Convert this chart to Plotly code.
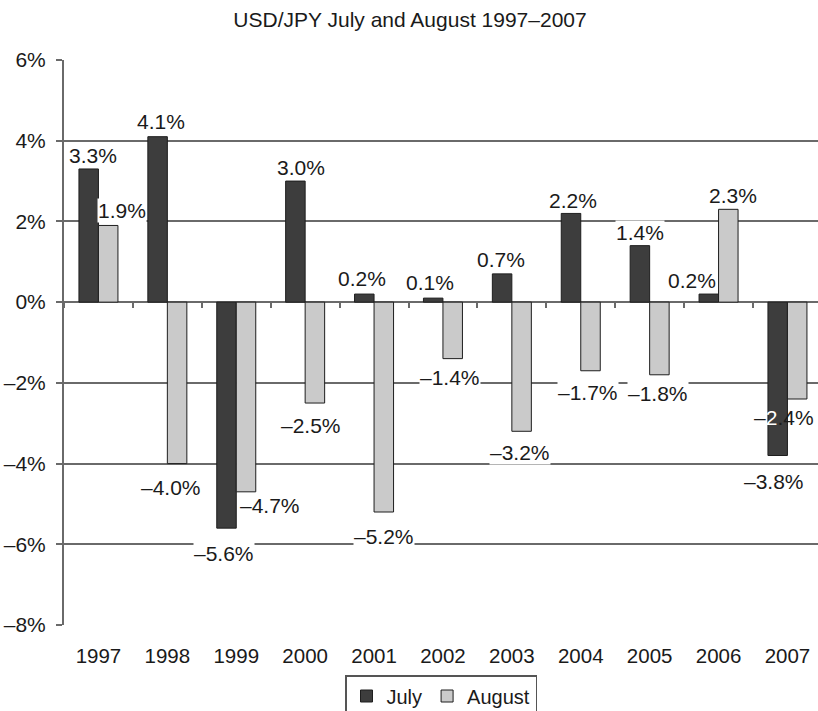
import plotly.graph_objects as go

# ---- data ----
years = ["1997", "1998", "1999", "2000", "2001", "2002", "2003", "2004", "2005", "2006", "2007"]
july = [3.3, 4.1, -5.6, 3.0, 0.2, 0.1, 0.7, 2.2, 1.4, 0.2, -3.8]
august = [1.9, -4.0, -4.7, -2.5, -5.2, -1.4, -3.2, -1.7, -1.8, 2.3, -2.4]
ytick_vals = [-8, -6, -4, -2, 0, 2, 4, 6]
ytick_text = ["\u20138%", "\u20136%", "\u20134%", "\u20132%", "0%", "2%", "4%", "6%"]

# ---- label placement (pixel shifts relative to the category centre / bar end) ----
july_dx = [-5, -6, -12, -4, -12, -13, -11, -8, -10, -27, -13]
july_dy = [13, 15, -25, 14, 16, 16, 14, 13, 13, 14, -26]
aug_dx = [24, 4, 34, 6, 10, 7, 8, 7, 8, 14, -3]
aug_dy = [15, -24, -14, -22, -24, -19, -21, -22, -19, 14, -18]
# labels that sit on top of a dark bar: no white box, part of the text drawn in white
overlap_labels = {("aug", 10)}

FONT = "Liberation Sans, Arial, Helvetica, sans-serif"
JULY_COLOR = "#3d3d3d"
AUG_COLOR = "#cacaca"
GRID = "#6a6a6a"
TXT = "#1a1a1a"


def fmt(v):
    s = f"{abs(v):.1f}%"
    return ("\u2013" + s) if v < 0 else s


idx = list(range(len(years)))

fig = go.Figure()
fig.add_trace(go.Bar(name="July", x=idx, y=july,
                     marker=dict(color=JULY_COLOR, line=dict(color="#1e1e1e", width=1))))
fig.add_trace(go.Bar(name="August", x=idx, y=august,
                     marker=dict(color=AUG_COLOR, line=dict(color="#1e1e1e", width=1))))

annotations = []
for i in idx:
    for key, vals, dx, dy in (("jul", july, july_dx, july_dy), ("aug", august, aug_dx, aug_dy)):
        v = vals[i]
        text = fmt(v)
        bg = "white"
        if (key, i) in overlap_labels:
            bg = "rgba(0,0,0,0)"
            sign, first, rest = text[0], text[1], text[2:]
            text = f'{sign}<span style="color:white">{first}</span>{rest}'
        annotations.append(dict(
            x=i, y=v, xref="x", yref="y", text=text, showarrow=False,
            xshift=dx[i], yshift=dy[i], bgcolor=bg, borderpad=0,
            font=dict(family=FONT, size=21, color=TXT),
            xanchor="center", yanchor="middle"))

L, R, T, B = 64, 0, 60, 86
plot_w = 818 - L - R
cat_w = 68.9
x_range = [-0.5, -0.5 + plot_w / cat_w]
zero_pos = (0 - ytick_vals[0]) / (ytick_vals[-1] - ytick_vals[0])
boundaries = [i - 0.5 for i in idx] + [len(years) - 0.5]

fig.update_layout(
    width=818, height=711,
    margin=dict(l=L, r=R, t=T, b=B, autoexpand=False),
    paper_bgcolor="white", plot_bgcolor="white",
    barmode="group", bargap=0.434, bargroupgap=0,
    title=dict(text="USD/JPY July and August 1997\u20132007", x=410 / 818, xref="container",
               y=1 - 20 / 711, yref="container", xanchor="center", yanchor="middle",
               font=dict(family=FONT, size=21, color=TXT)),
    font=dict(family=FONT, size=20, color=TXT),
    xaxis=dict(range=x_range, tickmode="array", tickvals=idx, ticktext=years,
               showgrid=False, showline=False, ticks="", zeroline=False,
               ticklabelstandoff=16, tickfont=dict(family=FONT, size=20.5, color=TXT)),
    xaxis2=dict(overlaying="x", anchor="free", position=zero_pos, side="bottom",
                range=x_range, tickmode="array", tickvals=boundaries,
                showgrid=False, showline=False, showticklabels=False,
                ticks="outside", ticklen=5, tickwidth=1.5, tickcolor=GRID, zeroline=False),
    yaxis=dict(range=[ytick_vals[0], ytick_vals[-1]], tickvals=ytick_vals, ticktext=ytick_text,
               showgrid=True, gridcolor=GRID, gridwidth=2,
               zeroline=True, zerolinecolor=GRID, zerolinewidth=2,
               showline=True, linecolor=GRID, linewidth=2,
               ticks="outside", ticklen=6, tickcolor=GRID, tickwidth=2,
               ticklabelstandoff=6,
               tickfont=dict(family=FONT, size=21, color=TXT)),
    showlegend=True,
    legend=dict(orientation="h", x=441 / 818, xref="container", xanchor="center",
                y=1 - 675 / 711, yref="container", yanchor="top",
                bordercolor="#555555", borderwidth=1.5, bgcolor="white",
                font=dict(family=FONT, size=20, color=TXT),
                itemwidth=30, tracegroupgap=0),
    annotations=annotations,
)

# an invisible trace so the zero-line tick axis is always drawn
fig.add_trace(go.Scatter(x=idx, y=[0] * len(idx), xaxis="x2", mode="markers",
                         marker=dict(opacity=0), showlegend=False, hoverinfo="skip"))

fig.write_html("out.html", config={"displayModeBar": False},
               post_script="document.body.style.margin='0';document.body.style.padding='0';")
